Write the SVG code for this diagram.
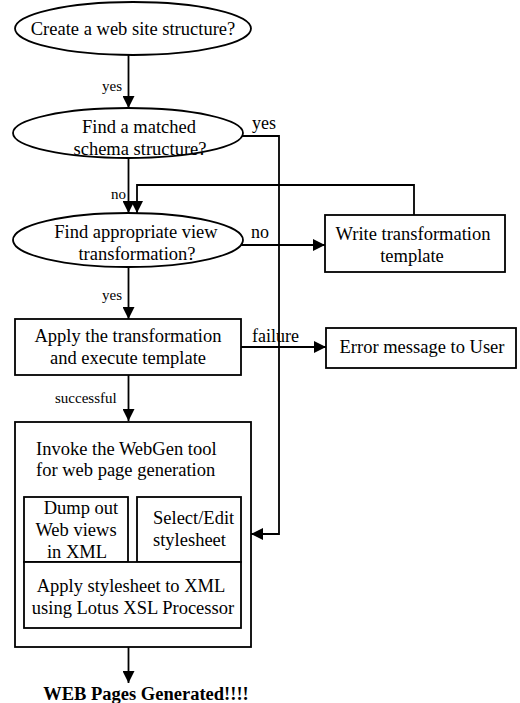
<svg xmlns="http://www.w3.org/2000/svg" width="520" height="703" viewBox="0 0 520 703">
  <style>
    .shape { fill: #fff; stroke: #000; stroke-width: 1.8; }
    .wire { fill: none; stroke: #000; stroke-width: 1.8; }
    text { font-family: "Liberation Serif", "Times New Roman", serif; fill: #000; }
    .t { font-size: 18.5px; }
    .c { text-anchor: middle; }
    .lbl { font-size: 15px; }
    .lblr { font-size: 18px; }
    .bold { font-weight: bold; font-size: 18.5px; }
  </style>
  <defs>
    <marker id="arrow" markerUnits="userSpaceOnUse" markerWidth="12" markerHeight="12" refX="12" refY="6" orient="auto">
      <path d="M0,0 L12,6 L0,12 z" fill="#000"/>
    </marker>
  </defs>

  <rect width="520" height="703" fill="#fff"/>

  <!-- connectors -->
  <g id="connectors" class="wire" marker-end="url(#arrow)">
    <path d="M128.5,55 V108"/>
    <path d="M242,136 H279 V534 H251"/>
    <path d="M128.5,158 V213"/>
    <path d="M414,215 V185 H137 V213"/>
    <path d="M241,245 H325"/>
    <path d="M128.5,267 V319"/>
    <path d="M241,347 H326"/>
    <path d="M128.5,375 V421"/>
    <path d="M128.5,647 V683"/>
  </g>

  <!-- connector labels -->
  <g id="labels">
    <text class="lbl" x="102" y="91">yes</text>
    <text class="lblr" x="252" y="129">yes</text>
    <text class="lbl" x="111" y="199">no</text>
    <text class="lblr" x="251" y="238">no</text>
    <text class="lbl" x="102" y="300">yes</text>
    <text class="lblr" x="252" y="342">failure</text>
    <text class="lbl" x="55" y="403">successful</text>
  </g>

  <g id="create-site">
    <ellipse class="shape" cx="133" cy="28.5" rx="118" ry="26.5"/>
    <text class="t c" x="133" y="35">Create a web site structure?</text>
  </g>

  <g id="match-schema">
    <ellipse class="shape" cx="128" cy="133" rx="115" ry="25"/>
    <text class="t c" x="139" y="133">Find a matched</text>
    <text class="t c" x="140" y="155">schema structure?</text>
  </g>

  <g id="find-view">
    <ellipse class="shape" cx="128" cy="240" rx="115" ry="27"/>
    <text class="t c" x="136" y="238">Find appropriate view</text>
    <text class="t c" x="137" y="260">transformation?</text>
  </g>

  <g id="write-template">
    <rect class="shape" x="325" y="215" width="180" height="57"/>
    <text class="t c" x="413" y="240">Write transformation</text>
    <text class="t c" x="412" y="262">template</text>
  </g>

  <g id="apply-transform">
    <rect class="shape" x="15" y="319" width="226" height="56"/>
    <text class="t c" x="128" y="342">Apply the transformation</text>
    <text class="t c" x="128" y="364">and execute template</text>
  </g>

  <g id="error-message">
    <rect class="shape" x="326" y="328" width="190" height="40"/>
    <text class="t c" x="422" y="353">Error message to User</text>
  </g>

  <g id="webgen">
    <rect class="shape" x="15" y="422" width="236" height="225"/>
    <text class="t" x="36" y="455">Invoke the WebGen tool</text>
    <text class="t" x="36" y="476">for web page generation</text>

    <g id="dump-views">
      <rect class="shape" x="24" y="497" width="104" height="65"/>
      <text class="t c" x="81" y="514">Dump out</text>
      <text class="t c" x="76" y="536">Web views</text>
      <text class="t c" x="77" y="558">in XML</text>
    </g>

    <g id="edit-stylesheet">
      <rect class="shape" x="137" y="497" width="104" height="65"/>
      <text class="t" x="153" y="524">Select/Edit</text>
      <text class="t" x="153" y="546">stylesheet</text>
    </g>

    <g id="apply-stylesheet">
      <rect class="shape" x="24" y="562" width="217" height="66"/>
      <text class="t c" x="131" y="592">Apply stylesheet to XML</text>
      <text class="t c" x="133" y="614">using Lotus XSL Processor</text>
    </g>
  </g>

  <g id="result">
    <text class="bold c" x="146" y="700">WEB Pages Generated!!!!</text>
  </g>
</svg>
